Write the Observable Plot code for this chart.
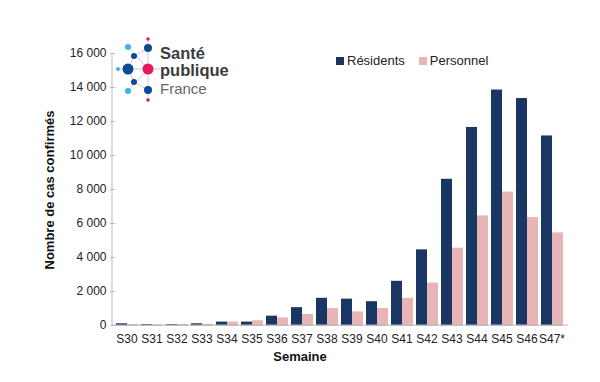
<!DOCTYPE html>
<html><head><meta charset="utf-8">
<script src="https://cdn.jsdelivr.net/npm/d3@7"></script>
<script src="https://cdn.jsdelivr.net/npm/@observablehq/plot@0.6"></script>
<style>
body{margin:0;background:#fff;font-family:"Liberation Sans",Arial,sans-serif;}
#wrap{position:relative;width:600px;height:382px;}
#legend{position:absolute;left:336px;top:53px;font-size:13px;color:#222;display:flex;align-items:center;}
#legend span.sw{display:inline-block;width:8px;height:8px;margin-right:3px;}
#logo{position:absolute;left:0;top:0;}
</style></head><body>
<div id="wrap"></div>
<script>
const weeks = ["S30","S31","S32","S33","S34","S35","S36","S37","S38","S39","S40","S41","S42","S43","S44","S45","S46","S47*"];
const residents = [100,50,50,100,200,200,550,1050,1600,1550,1400,2600,4450,8600,11650,13850,13350,11150];
const personnel = [60,30,60,70,200,280,450,650,1000,800,1000,1600,2500,4550,6450,7850,6350,5450];
const seriesNames = ["Résidents","Personnel"];
const colors = ["#1a3663","#e8b5b7"];
const yTicks = [0,2000,4000,6000,8000,10000,12000,14000,16000];

const data = [];
weeks.forEach((w,i)=>{
  data.push({week:w, series:seriesNames[0], value:residents[i]});
  data.push({week:w, series:seriesNames[1], value:personnel[i]});
});
const fmt = d => d3.format(",")(d).replace(/,/g," ");

const chart = Plot.plot({
  width:600, height:382,
  marginLeft:112, marginRight:35, marginTop:53, marginBottom:57,
  style:{fontFamily:"Liberation Sans, Arial, sans-serif", fontSize:"12px", color:"#222", background:"#fff"},
  fx:{domain:weeks, paddingInner:0.1, paddingOuter:0.05, label:null},
  x:{domain:seriesNames, padding:0, axis:null},
  y:{domain:[0,16000], ticks:yTicks, tickFormat:fmt, label:null},
  color:{domain:seriesNames, range:colors},
  marks:[
    Plot.barY(data,{fx:"week", x:"series", y:"value", fill:"series", inset:0}),
    Plot.axisY({ticks:yTicks, tickFormat:fmt, tickSize:5, tickPadding:4, stroke:"#bbb", fontSize:12, label:null}),
    Plot.axisFx({anchor:"bottom", tickSize:0, tickPadding:9, fontSize:12, label:null}),
    Plot.ruleY([0],{stroke:"#bbb"})
  ]
});
const wrap = document.getElementById("wrap");
wrap.appendChild(chart);

// Axis titles
const svg = d3.select(chart);
svg.append("text").attr("x",300).attr("y",361).attr("text-anchor","middle")
  .attr("font-weight","bold").attr("font-size",13).attr("fill","#111").text("Semaine");
svg.append("text").attr("transform","translate(54,190) rotate(-90)").attr("text-anchor","middle")
  .attr("font-weight","bold").attr("font-size",13).attr("fill","#111").text("Nombre de cas confirmés");
// axis lines
svg.append("line").attr("x1",112).attr("x2",112).attr("y1",53).attr("y2",325).attr("stroke","#bbb");
svg.append("line").attr("x1",112).attr("x2",568).attr("y1",325).attr("y2",325).attr("stroke","#bbb");

// Legend
const lg = document.createElement("div");
lg.id="legend";
lg.innerHTML = seriesNames.map((n,i)=>`<span class="sw" style="background:${colors[i]}"></span><span style="margin-right:14px">${n}</span>`).join("");
wrap.appendChild(lg);

// Logo
const logo = d3.select(wrap).append("svg").attr("id","logo").attr("width",260).attr("height",110);
const g = logo.append("g").attr("stroke","#cfcfcf").attr("stroke-width",1);
[[148,39,148,100],[118,69,160,69],[128,47,148,69],[128,91,148,69],[134,56,128,69],[134,82,128,69],[148,48,134,56],[148,90,134,82]]
  .forEach(l=>g.append("line").attr("x1",l[0]).attr("y1",l[1]).attr("x2",l[2]).attr("y2",l[3]));
const dots = [[148,39,1.8,"#e5195e"],[148,48,4,"#0a4a96"],[128,47,3,"#3ab4e6"],[134,56,3,"#0a4a96"],
  [128,69,5.5,"#0a4a96"],[118,69,2,"#3ab4e6"],[148,69,5.5,"#e5195e"],[134,82,3,"#0a4a96"],
  [128,91,3,"#3ab4e6"],[148,90,4,"#0a4a96"],[148,100,1.8,"#e5195e"]];
dots.forEach(d=>logo.append("circle").attr("cx",d[0]).attr("cy",d[1]).attr("r",d[2]).attr("fill",d[3]));
logo.append("text").attr("x",160).attr("y",59).attr("font-size",16.5).attr("font-weight","bold").attr("fill","#3c3c3c").text("Santé");
logo.append("text").attr("x",160).attr("y",76).attr("font-size",16.5).attr("font-weight","bold").attr("fill","#3c3c3c").text("publique");
logo.append("text").attr("x",160).attr("y",94).attr("font-size",15).attr("fill","#666").text("France");
</script>
</body></html>
